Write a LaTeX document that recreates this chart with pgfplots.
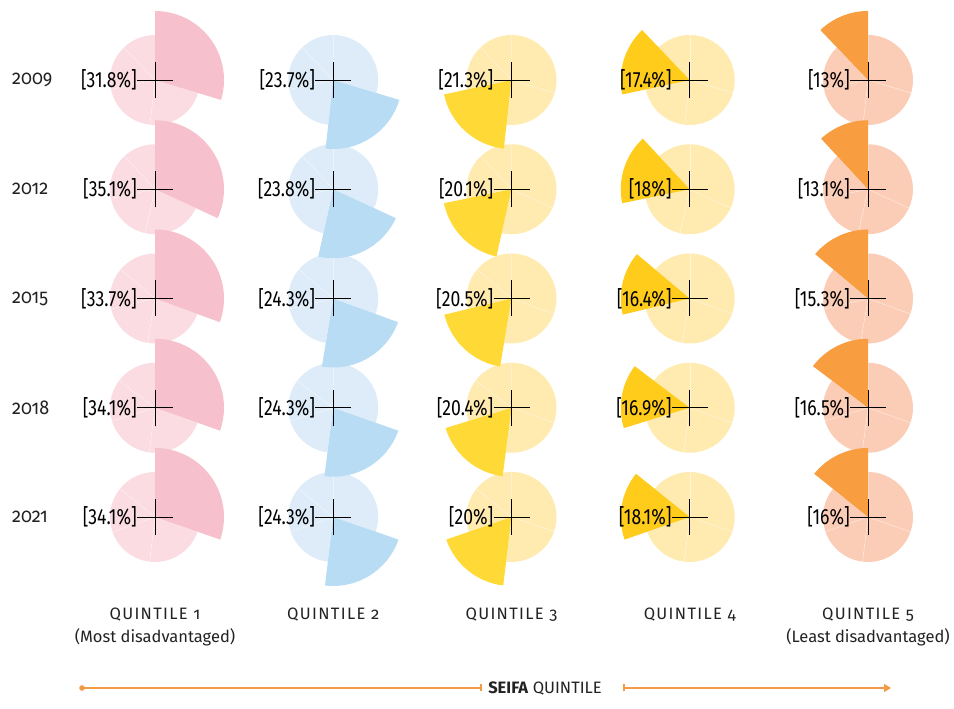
\documentclass[border=0pt]{standalone}
\usepackage{pgfplots}
\pgfplotsset{compat=1.18}
\usepackage{pgfplotstable}
\usepackage{fontspec}
\setmainfont{Fira Sans}
\newfontfamily\pctfont[FakeStretch=0.8]{Fira Sans}
\newfontfamily\yrfont[Numbers=OldStyle,FakeStretch=0.9]{Fira Sans}
\newfontfamily\osfont[Numbers=OldStyle,LetterSpace=8]{Fira Sans}
\usetikzlibrary{arrows.meta}

\definecolor{qAl}{HTML}{FADCE2}\definecolor{qAd}{HTML}{F6C0CC}
\definecolor{qBl}{HTML}{DDECF8}\definecolor{qBd}{HTML}{B8DCF3}
\definecolor{qCl}{HTML}{FFEAB0}\definecolor{qCd}{HTML}{FFD936}
\definecolor{qDl}{HTML}{FFEAB0}\definecolor{qDd}{HTML}{FFCC1C}
\definecolor{qEl}{HTML}{FCCDB6}\definecolor{qEd}{HTML}{F89D40}
\definecolor{axorange}{HTML}{F39A44}
\definecolor{txt}{HTML}{222222}

\pgfplotstableread{
year q1 q2 q3 q4 q5
2009 31.8 23.7 21.3 17.4 13
2012 35.1 23.8 20.1 18 13.1
2015 33.7 24.3 20.5 16.4 15.3
2018 34.1 24.3 20.4 16.9 16.5
2021 34.1 24.3 20 18.1 16
}\datatable

\newcommand\getrow[1]{%
  \pgfplotstablegetelem{#1}{year}\of\datatable \let\yr\pgfplotsretval
  \pgfplotstablegetelem{#1}{q1}\of\datatable \let\valA\pgfplotsretval
  \pgfplotstablegetelem{#1}{q2}\of\datatable \let\valB\pgfplotsretval
  \pgfplotstablegetelem{#1}{q3}\of\datatable \let\valC\pgfplotsretval
  \pgfplotstablegetelem{#1}{q4}\of\datatable \let\valD\pgfplotsretval
  \pgfplotstablegetelem{#1}{q5}\of\datatable \let\valE\pgfplotsretval
  \pgfmathsetmacro\tot{\valA+\valB+\valC+\valD+\valE}%
  \pgfmathsetmacro\aA{90}%
  \pgfmathsetmacro\aB{\aA-360*\valA/\tot}%
  \pgfmathsetmacro\aC{\aB-360*\valB/\tot}%
  \pgfmathsetmacro\aD{\aC-360*\valC/\tot}%
  \pgfmathsetmacro\aE{\aD-360*\valD/\tot}%
  \pgfmathsetmacro\aF{-270}%
  \pgfmathsetmacro\cy{629-109.25*#1}%
}

% light pie: #1 = cx, #2 = colour
\newcommand\lightpie[2]{%
  \foreach \s/\e in {\aA/\aB,\aB/\aC,\aC/\aD,\aD/\aE,\aE/\aF}{%
    \fill[#2] (axis cs:#1,\cy) -- ++(\s:45pt) arc[start angle=\s, end angle=\e, radius=45pt] -- cycle;
    \draw[white, opacity=0.55, line width=0.4pt] (axis cs:#1,\cy) -- ++(\s:45pt);
  }%
}
% dark wedge: #1 = cx, #2 start, #3 end, #4 colour
\newcommand\darkwedge[4]{%
  \fill[#4] (axis cs:#1,\cy) -- ++(#2:69pt) arc[start angle=#2, end angle=#3, radius=69pt] -- cycle;
}
% crosshair + label
\newcommand\crossmark[2]{%
  \draw[black, line width=0.9pt] (axis cs:#1,\cy) ++(-18pt,0pt) -- ++(36pt,0pt);
  \draw[black, line width=0.9pt] (axis cs:#1,\cy) ++(0pt,-18pt) -- ++(0pt,36pt);
  \node[anchor=east, inner sep=0pt, text=black, font=\pctfont\fontsize{22}{26}\selectfont]
    at (axis cs:#1-18,\cy) {[#2\%]};
}

\begin{document}
\begin{tikzpicture}
\begin{axis}[
  x=1pt, y=1pt,
  xmin=0, xmax=954, ymin=0, ymax=709,
  hide axis, clip=false,
]
\pgfplotsextra{
  \path (axis cs:0,0) rectangle (axis cs:954,709);
  % pass 1: light pies
  \foreach \r in {0,...,4}{
    \getrow{\r}
    \lightpie{155}{qAl}
    \lightpie{333.25}{qBl}
    \lightpie{511.5}{qCl}
    \lightpie{689.75}{qDl}
    \lightpie{868}{qEl}
  }
  % pass 2: dark wedges
  \foreach \r in {0,...,4}{
    \getrow{\r}
    \darkwedge{155}{\aA}{\aB}{qAd}
    \darkwedge{333.25}{\aB}{\aC}{qBd}
    \darkwedge{511.5}{\aC}{\aD}{qCd}
    \darkwedge{689.75}{\aD}{\aE}{qDd}
    \darkwedge{868}{\aE}{\aF}{qEd}
  }
  % pass 3: crosshairs, labels, years
  \foreach \r in {0,...,4}{
    \getrow{\r}
    \crossmark{155}{\valA}
    \crossmark{333.25}{\valB}
    \crossmark{511.5}{\valC}
    \crossmark{689.75}{\valD}
    \crossmark{868}{\valE}
    \node[anchor=west, inner sep=0pt, text=txt, font=\yrfont\fontsize{20}{24}\selectfont]
      at (axis cs:12,\cy) {\yr};
  }
  % column labels
  \foreach \x/\n in {155/1,333.25/2,511.5/3,689.75/4,868/5}{
    \node[inner sep=0pt, text=txt, font=\osfont\fontsize{16.5}{20}\selectfont]
      at (axis cs:\x,94) {QUINTILE \n};
  }
  \node[inner sep=0pt, text=txt, font=\fontsize{16.5}{20}\selectfont]
    at (axis cs:155,72) {(Most disadvantaged)};
  \node[inner sep=0pt, text=txt, font=\fontsize{16.5}{20}\selectfont]
    at (axis cs:868,72) {(Least disadvantaged)};
  % axis arrow
  \fill[axorange] (axis cs:82,21) circle[radius=2.8pt];
  \draw[axorange, line width=1.2pt] (axis cs:82,21) -- (axis cs:481,21);
  \draw[axorange, line width=1.2pt] (axis cs:481,17.5) -- (axis cs:481,24.5);
  \draw[axorange, line width=1.2pt] (axis cs:624,17.5) -- (axis cs:624,24.5);
  \draw[axorange, line width=1.2pt, -{Triangle[length=7pt,width=8pt]}] (axis cs:624,21) -- (axis cs:891,21);
  \node[inner sep=0pt, text=txt, font=\fontsize{16.5}{20}\selectfont]
    at (axis cs:545,21) {\textbf{SEIFA} QUINTILE};
}
\end{axis}
\end{tikzpicture}
\end{document}
